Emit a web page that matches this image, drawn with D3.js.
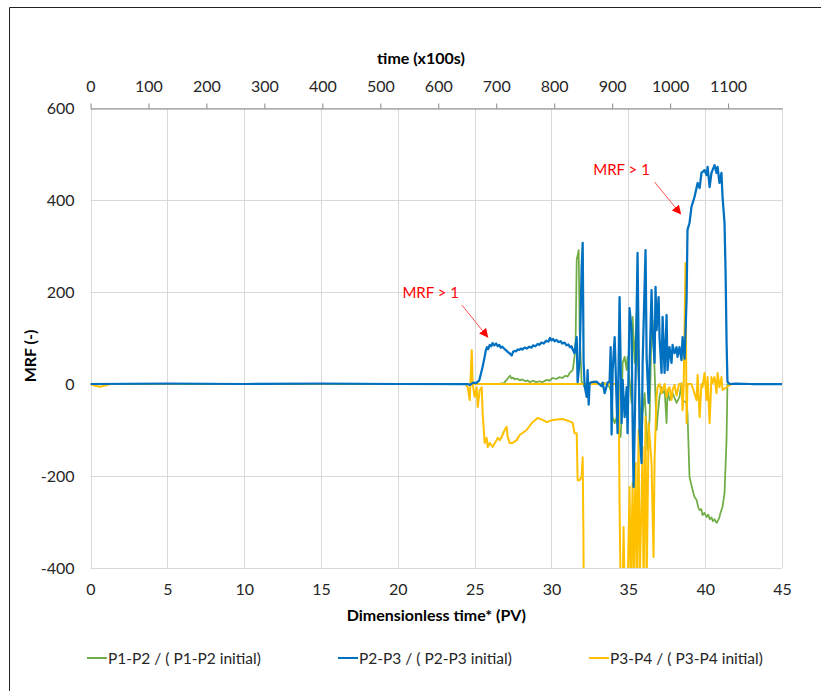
<!DOCTYPE html>
<html>
<head>
<meta charset="utf-8">
<script src="https://cdn.jsdelivr.net/npm/d3@7"></script>
<style>
body { margin: 0; background: #fff; }
text { font-family: Lato, "Open Sans", sans-serif; }
</style>
</head>
<body>
<div id="chart"></div>
<script>
// tick values
var pvTicks = [0, 5, 10, 15, 20, 25, 30, 35, 40, 45];
var timeTicks = [0, 100, 200, 300, 400, 500, 600, 700, 800, 900, 1000, 1100];
var mrfTicks = [-400, -200, 0, 200, 400, 600];
var timeMax = 1193;   // top axis end (x100s) at PV 45

var seriesNames = ["P1-P2 / ( P1-P2 initial)", "P2-P3 / ( P2-P3 initial)", "P3-P4 / ( P3-P4 initial)"];
var seriesColors = ["#70AD47", "#0070C0", "#FFC000"];

// P1-P2 / (P1-P2 initial)  [PV, MRF]
var p12 = [
  [0,0],[10,0],[20,0],[26.5,0],[26.9,2],[27.08,9],[27.2,14],[27.3,18],[27.4,12],[27.5,14],[27.6,10],
  [27.75,12],[27.93,8],[28.1,10],[28.3,6],[28.45,8],[28.58,4],[28.8,7],[29.0,4],[29.23,6],[29.4,4],
  [29.7,9],[29.85,7],[30.07,13],[30.3,11],[30.53,15],[30.7,13],[30.9,18],[31.05,16],[31.18,24],[31.38,30],
  [31.5,59],[31.57,96],[31.64,270],[31.77,291],[31.83,117],[31.96,5],[32.03,2],[32.16,-7],[32.48,2],
  [33,0],[33.5,2],[33.78,-7],[33.91,-20],[33.98,-72],[34.11,-85],[34.24,-72],[34.3,-41],[34.37,-100],
  [34.5,-115],[34.56,-72],[34.63,46],[34.76,59],[34.89,30],[34.95,59],[35.08,9],[35.21,-41],[35.28,146],
  [35.41,46],[35.54,154],[35.6,59],[35.73,-28],[35.86,-128],[35.93,-63],[36.06,-20],[36.19,-100],
  [36.25,-143],[36.38,-78],[36.51,117],[36.58,139],[36.71,30],[36.84,-100],[36.9,-72],[37.03,-28],
  [37.16,-7],[37.23,-20],[37.36,-13],[37.49,-85],[37.55,-13],[37.68,-35],[37.88,-20],[38.14,-41],
  [38.33,-28],[38.46,2],[38.53,-35],[38.79,-41],[38.85,-63],[38.98,-202],[39.18,-230],[39.3,-245],
  [39.44,-252],[39.55,-268],[39.64,-274],[39.75,-272],[39.83,-285],[39.95,-280],[40.09,-289],
  [40.2,-284],[40.3,-294],[40.41,-290],[40.5,-298],[40.61,-294],[40.74,-302],[40.85,-296],
  [40.93,-289],[41.0,-280],[41.13,-267],[41.26,-237],[41.39,-122],[41.45,0],[41.6,0],[45,0]
];

// P2-P3 / (P2-P3 initial)
var p23 = [
  [0,0],[5,1],[10,0],[15,1],[20,0],[24.5,0],[24.7,-2],[24.9,3],[25.1,2],[25.3,8],[25.5,35],[25.65,59],
  [25.72,72],[25.8,80],[25.88,76],[25.98,85],[26.08,82],[26.17,89],[26.28,84],[26.4,88],[26.5,82],
  [26.6,85],[26.7,79],[26.8,81],[26.95,76],[27.05,73],[27.15,70],[27.3,66],[27.41,62],[27.5,70],
  [27.6,72],[27.7,71],[27.8,75],[27.9,74],[28.0,77],[28.1,75],[28.25,79],[28.4,77],[28.55,81],
  [28.7,79],[28.8,84],[28.95,82],[29.1,87],[29.2,85],[29.35,90],[29.5,88],[29.65,94],[29.8,92],
  [29.9,100],[30.0,95],[30.1,98],[30.2,93],[30.33,96],[30.45,91],[30.6,93],[30.7,88],[30.85,90],
  [30.98,84],[31.1,86],[31.2,80],[31.3,82],[31.4,74],[31.5,67],[31.64,102],[31.7,4],
  [31.83,50],[31.96,250],[32.03,307],[32.09,46],[32.16,-5],[32.29,-28],[32.35,30],[32.42,-45],
  [32.48,2],[32.61,4],[32.94,5],[33.26,-5],[33.33,3],[33.46,-20],[33.65,3],[33.78,5],[33.85,80],
  [33.91,-110],[33.98,30],[34.11,102],[34.24,-41],[34.3,-107],[34.43,189],[34.56,-85],[34.63,9],
  [34.76,-72],[34.89,-7],[34.95,-107],[35.08,165],[35.21,117],[35.28,-85],[35.34,-224],[35.47,9],
  [35.6,285],[35.73,-100],[35.86,-172],[35.93,46],[36.12,291],[36.19,59],[36.32,-41],[36.51,204],
  [36.58,117],[36.71,46],[36.77,211],[36.84,117],[36.97,189],[37.03,102],[37.16,24],[37.23,146],
  [37.36,24],[37.49,150],[37.55,30],[37.68,80],[37.81,46],[37.88,85],[38.01,67],[38.14,80],[38.2,59],
  [38.33,80],[38.46,52],[38.53,102],[38.66,55],[38.79,183],[38.85,335],[38.98,350],[39.11,385],
  [39.31,407],[39.51,437],[39.64,426],[39.76,459],[39.96,465],[40.09,454],[40.16,472],[40.29,428],
  [40.41,459],[40.61,476],[40.74,459],[40.81,472],[40.93,437],[41.06,459],[41.13,407],[41.26,350],
  [41.33,241],[41.39,96],[41.45,5],[41.6,0],[42,1],[43,0],[45,0]
];

// P3-P4 / (P3-P4 initial); null splits the two traces
var p34 = [
  [0,0],[0.3,-4],[0.6,-6],[1.0,-3],[1.3,0],[10,0],[20,0],[24.4,0],[24.55,-7],[24.68,-35],[24.81,74],
  [24.87,0],[25.0,-28],[25.13,-7],[25.2,-50],[25.33,-13],[25.46,-7],[25.52,-63],[25.65,-128],
  [25.78,-117],[25.85,-137],[25.98,-128],[26.17,-137],[26.43,-122],[26.5,-117],[26.63,-122],
  [26.76,-115],[26.95,-100],[27.08,-93],[27.15,-115],[27.28,-128],[27.47,-128],[27.73,-122],
  [27.93,-111],[28.38,-100],[28.77,-83],[29.1,-74],[29.42,-78],[29.69,-83],[30.07,-78],[30.72,-76],
  [31.31,-83],[31.38,-85],[31.5,-107],[31.64,-107],[31.7,-209],[31.83,-209],[31.96,-202],[32.03,-159],
  [32.07,-300],[32.1,-450],
  null,
  [24.87,0],[32.16,0],[33,0],[34.37,0],[34.43,-267],[34.5,-450],[34.63,-450],[34.69,-311],[34.76,-450],
  [34.95,-450],[35.08,-224],[35.15,-450],[35.28,-215],[35.34,-450],[35.47,-172],[35.54,-450],
  [35.67,-100],[35.73,-450],[35.93,-137],[35.99,-450],[36.12,-72],[36.19,-450],[36.32,-85],
  [36.51,-172],[36.64,-376],[36.71,-159],[36.84,-28],[36.9,-7],[37.03,0],[37.16,-20],[37.23,-13],
  [37.36,0],[37.49,-28],[37.6,-10],[37.68,-7],[37.81,-35],[37.88,-13],[38.01,-2],[38.14,-25],
  [38.3,0],[38.46,0],[38.53,-57],[38.6,-7],[38.72,263],
  [38.79,-85],[38.85,0],[39.11,0],[39.44,-35],[39.51,20],[39.64,-72],[39.76,0],[39.83,-7],[39.96,24],
  [40.09,-35],[40.16,15],[40.29,-85],[40.41,15],[40.48,2],[40.61,15],[40.74,-20],[40.81,24],
  [40.93,-7],[41.06,15],[41.13,-13],[41.39,-7],[41.58,-2],[41.78,0],[45,0]
];

// annotations: text position and arrow (PV, MRF)
var notes = [
  { label: "MRF > 1", tx: 22.14, ty: 198, x1: 24.16, y1: 172, x2: 25.85, y2: 102 },
  { label: "MRF > 1", tx: 34.56, ty: 465, x1: 36.71, y1: 439, x2: 38.4, y2: 370 }
];

var width = 821, height = 691;
var svg = d3.select("#chart").append("svg")
  .attr("width", width)
  .attr("height", height);

var x = d3.scaleLinear().domain([0, 45]).range([90.5, 782]);
var xTop = d3.scaleLinear().domain([0, timeMax]).range([90.5, 782]);
var y = d3.scaleLinear().domain([-400, 600]).range([568, 108]);

var plain = function(d) { return String(d); };   // hyphen minus, no thousands comma

// outer frame (only top and left edges are visible)
svg.append("path")
  .attr("d", "M9.5," + height + "V7.5H" + width)
  .attr("fill", "none")
  .attr("stroke", "#222")
  .attr("stroke-width", 1);

svg.append("defs").append("clipPath").attr("id", "plotclip")
  .append("rect")
  .attr("x", x(0)).attr("y", y(600))
  .attr("width", x(45) - x(0)).attr("height", y(-400) - y(600));

svg.append("defs").append("marker")
  .attr("id", "arrow")
  .attr("viewBox", "0 0 10 10")
  .attr("refX", 9).attr("refY", 5)
  .attr("markerWidth", 9).attr("markerHeight", 9)
  .attr("markerUnits", "userSpaceOnUse")
  .attr("orient", "auto")
  .append("path")
  .attr("d", "M0,0L10,5L0,10z")
  .attr("fill", "#FF0000");

// gridlines
svg.append("g").selectAll("line")
  .data(pvTicks)
  .enter().append("line")
  .attr("x1", function(d) { return Math.round(x(d)) + 0.5; })
  .attr("x2", function(d) { return Math.round(x(d)) + 0.5; })
  .attr("y1", y(600))
  .attr("y2", y(-400))
  .attr("stroke", "#d9d9d9")
  .attr("stroke-width", 1);

svg.append("g").selectAll("line")
  .data(mrfTicks)
  .enter().append("line")
  .attr("x1", x(0))
  .attr("x2", x(45))
  .attr("y1", function(d) { return Math.round(y(d)) + 0.5; })
  .attr("y2", function(d) { return Math.round(y(d)) + 0.5; })
  .attr("stroke", "#d9d9d9")
  .attr("stroke-width", 1);

// top axis (time x100s)
var topAxis = svg.append("g")
  .attr("transform", "translate(0," + (y(600) + 0.5) + ")")
  .call(d3.axisTop(xTop).tickValues(timeTicks).tickFormat(plain)
    .tickSize(5).tickPadding(12).tickSizeOuter(0));
topAxis.select(".domain").attr("stroke", "#868686");
topAxis.selectAll(".tick line").attr("stroke", "#868686");
topAxis.selectAll("text")
  .attr("font-family", "Lato, sans-serif")
  .attr("font-size", 16)
  .attr("fill", "#262626");

// left axis
var leftAxis = svg.append("g")
  .attr("transform", "translate(" + x(0) + ",0)")
  .call(d3.axisLeft(y).tickValues(mrfTicks).tickFormat(plain).tickSize(0).tickPadding(16));
leftAxis.select(".domain").remove();
leftAxis.selectAll("text")
  .attr("font-family", "Lato, sans-serif")
  .attr("font-size", 16)
  .attr("fill", "#262626");

// bottom axis
var bottomAxis = svg.append("g")
  .attr("transform", "translate(0," + y(-400) + ")")
  .call(d3.axisBottom(x).tickValues(pvTicks).tickFormat(plain).tickSize(0).tickPadding(16));
bottomAxis.select(".domain").remove();
bottomAxis.selectAll("text")
  .attr("font-family", "Lato, sans-serif")
  .attr("font-size", 16)
  .attr("fill", "#262626");

// axis titles
svg.append("text")
  .attr("x", 421).attr("y", 64)
  .attr("text-anchor", "middle")
  .attr("font-size", 16).attr("font-weight", "bold")
  .text("time (x100s)");

svg.append("text")
  .attr("x", (x(0) + x(45)) / 2).attr("y", 621)
  .attr("text-anchor", "middle")
  .attr("font-size", 16).attr("font-weight", "bold")
  .text("Dimensionless time* (PV)");

svg.append("text")
  .attr("transform", "translate(36,356) rotate(-90)")
  .attr("text-anchor", "middle")
  .attr("font-size", 16).attr("font-weight", "bold")
  .text("MRF (-)");

// series
var line = d3.line()
  .defined(function(d) { return d != null; })
  .x(function(d) { return x(d[0]); })
  .y(function(d) { return y(d[1]); });

var plot = svg.append("g").attr("clip-path", "url(#plotclip)");
var drawOrder = [[p12, 0, 1.75], [p34, 2, 2], [p23, 1, 2.25]];
plot.selectAll("path")
  .data(drawOrder)
  .enter().append("path")
  .attr("d", function(d) { return line(d[0]); })
  .attr("fill", "none")
  .attr("stroke", function(d) { return seriesColors[d[1]]; })
  .attr("stroke-width", function(d) { return d[2]; })
  .attr("stroke-linejoin", "round");

// annotations
svg.selectAll(".note")
  .data(notes)
  .enter().append("text")
  .attr("class", "note")
  .attr("x", function(d) { return x(d.tx); })
  .attr("y", function(d) { return y(d.ty) + 5; })
  .attr("text-anchor", "middle")
  .attr("font-size", 15)
  .attr("fill", "#FF0000")
  .text(function(d) { return d.label; });

svg.selectAll(".arrow")
  .data(notes)
  .enter().append("line")
  .attr("class", "arrow")
  .attr("x1", function(d) { return x(d.x1); })
  .attr("y1", function(d) { return y(d.y1); })
  .attr("x2", function(d) { return x(d.x2); })
  .attr("y2", function(d) { return y(d.y2); })
  .attr("stroke", "#FF5050")
  .attr("stroke-width", 1)
  .attr("marker-end", "url(#arrow)");

// legend
var legend = svg.selectAll(".legend")
  .data(seriesNames)
  .enter().append("g")
  .attr("class", "legend")
  .attr("transform", function(d, i) { return "translate(" + (87 + i * 251) + ",658)"; });

legend.append("line")
  .attr("x1", 0).attr("x2", 20)
  .attr("y1", 0).attr("y2", 0)
  .attr("stroke", function(d, i) { return seriesColors[i]; })
  .attr("stroke-width", 2);

legend.append("text")
  .attr("x", 21).attr("y", 5.5)
  .attr("font-size", 15.5)
  .attr("fill", "#262626")
  .text(function(d) { return d; });
</script>
</body>
</html>
